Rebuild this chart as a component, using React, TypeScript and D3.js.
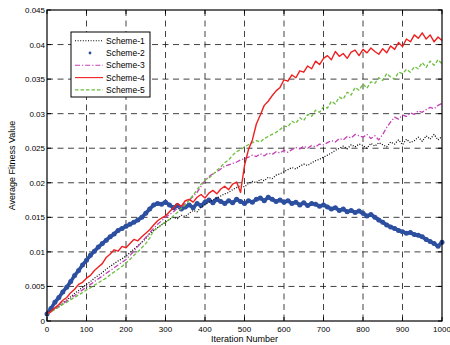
import React from 'react';
import * as d3 from 'd3';

const iterations = d3.range(0, 1001, 10);

const scheme1 = [
  0.0010, 0.0014, 0.0018, 0.0022, 0.0027, 0.0031, 0.0035, 0.0040, 0.0044, 0.0049,
  0.0053, 0.0057, 0.0062, 0.0066, 0.0070, 0.0075, 0.0079, 0.0083, 0.0087, 0.0090,
  0.0094, 0.0099, 0.0104, 0.0109, 0.0114, 0.0119, 0.0126, 0.0131, 0.0135, 0.0139,
  0.0143, 0.0147, 0.0150, 0.0148, 0.0153, 0.0151, 0.0156, 0.0160, 0.0158, 0.0165,
  0.0168, 0.0172, 0.0175, 0.0178, 0.0181, 0.0184, 0.0186, 0.0190, 0.0193, 0.0196,
  0.0194, 0.0199, 0.0202, 0.0200, 0.0205, 0.0203, 0.0208, 0.0206, 0.0211, 0.0213,
  0.0216, 0.0219, 0.0222, 0.0220, 0.0224, 0.0227, 0.0225, 0.0229, 0.0232, 0.0234,
  0.0237, 0.0240, 0.0243, 0.0247, 0.0250, 0.0253, 0.0249, 0.0255, 0.0252, 0.0256,
  0.0254, 0.0250, 0.0257, 0.0253, 0.0258, 0.0255, 0.0252, 0.0259, 0.0256, 0.0262,
  0.0255, 0.0263, 0.0258, 0.0261, 0.0266, 0.0260, 0.0268, 0.0263, 0.0270, 0.0262,
  0.0267,
];

const scheme2 = [
  0.0010, 0.0018, 0.0027, 0.0034, 0.0042, 0.0049, 0.0057, 0.0066, 0.0073, 0.0081,
  0.0088, 0.0095, 0.0101, 0.0107, 0.0112, 0.0117, 0.0122, 0.0126, 0.0131, 0.0134,
  0.0137, 0.0140, 0.0143, 0.0146, 0.0150, 0.0156, 0.0162, 0.0168, 0.0170, 0.0169,
  0.0172, 0.0168, 0.0164, 0.0167, 0.0162, 0.0165, 0.0168, 0.0164, 0.0170, 0.0167,
  0.0172, 0.0175, 0.0171, 0.0176, 0.0173, 0.0170, 0.0174, 0.0171, 0.0176, 0.0173,
  0.0170, 0.0174, 0.0172, 0.0176, 0.0178, 0.0174, 0.0179, 0.0176, 0.0173, 0.0175,
  0.0172, 0.0174, 0.0170, 0.0172, 0.0168, 0.0171, 0.0167, 0.0170, 0.0169, 0.0166,
  0.0168, 0.0165, 0.0162, 0.0164, 0.0160, 0.0162, 0.0158, 0.0160, 0.0157, 0.0159,
  0.0156, 0.0152, 0.0154, 0.0150, 0.0146, 0.0143, 0.0139, 0.0136, 0.0134, 0.0131,
  0.0129, 0.0127, 0.0128, 0.0125, 0.0124, 0.0122, 0.0118, 0.0115, 0.0112, 0.0108,
  0.0114,
];

const scheme3 = [
  0.0010, 0.0013, 0.0017, 0.0021, 0.0025, 0.0029, 0.0033, 0.0037, 0.0041, 0.0045,
  0.0049, 0.0053, 0.0057, 0.0061, 0.0065, 0.0069, 0.0073, 0.0077, 0.0081, 0.0085,
  0.0089, 0.0095, 0.0101, 0.0108, 0.0114, 0.0121, 0.0128, 0.0134, 0.0140, 0.0145,
  0.0150, 0.0154, 0.0158, 0.0163, 0.0166, 0.0170, 0.0175, 0.0180, 0.0186, 0.0195,
  0.0203, 0.0209, 0.0213, 0.0216, 0.0220, 0.0224, 0.0226, 0.0228, 0.0230, 0.0233,
  0.0235, 0.0237, 0.0240, 0.0238, 0.0242, 0.0239, 0.0243, 0.0241, 0.0245, 0.0243,
  0.0247, 0.0244, 0.0248, 0.0251, 0.0249, 0.0253, 0.0250, 0.0254, 0.0252, 0.0256,
  0.0255, 0.0258, 0.0261, 0.0259, 0.0264, 0.0262, 0.0267, 0.0265, 0.0270, 0.0268,
  0.0266, 0.0270, 0.0264, 0.0268, 0.0262, 0.0270, 0.0280, 0.0288, 0.0295, 0.0292,
  0.0298, 0.0296, 0.0301, 0.0299, 0.0304, 0.0302, 0.0306, 0.0309, 0.0307, 0.0312,
  0.0315,
];

const scheme4 = [
  0.0010, 0.0014, 0.0019, 0.0024, 0.0030, 0.0034, 0.0041, 0.0046, 0.0053, 0.0056,
  0.0062, 0.0066, 0.0073, 0.0078, 0.0083, 0.0092, 0.0097, 0.0103, 0.0101, 0.0108,
  0.0106, 0.0112, 0.0118, 0.0116, 0.0122, 0.0127, 0.0132, 0.0139, 0.0145, 0.0149,
  0.0152, 0.0158, 0.0164, 0.0170, 0.0166, 0.0174, 0.0176, 0.0172, 0.0179, 0.0183,
  0.0178, 0.0185, 0.0189, 0.0184, 0.0191, 0.0195, 0.0190, 0.0198, 0.0201, 0.0186,
  0.0225, 0.0248, 0.0262, 0.0285, 0.0298, 0.0312, 0.0318, 0.0326, 0.0333, 0.0338,
  0.0349, 0.0347, 0.0356, 0.0352, 0.0362, 0.0360, 0.0369, 0.0365, 0.0376, 0.0371,
  0.0380, 0.0384, 0.0378, 0.0390, 0.0383, 0.0387, 0.0380, 0.0389, 0.0392, 0.0384,
  0.0393, 0.0388, 0.0395, 0.0390, 0.0386, 0.0394, 0.0388, 0.0398, 0.0393, 0.0403,
  0.0397, 0.0408, 0.0404, 0.0414, 0.0409, 0.0417, 0.0408, 0.0414, 0.0404, 0.0411,
  0.0406,
];

const scheme5 = [
  0.0010, 0.0013, 0.0017, 0.0020, 0.0024, 0.0027, 0.0031, 0.0034, 0.0038, 0.0041,
  0.0045, 0.0048, 0.0052, 0.0055, 0.0059, 0.0062, 0.0067, 0.0071, 0.0075, 0.0079,
  0.0084, 0.0089, 0.0095, 0.0100, 0.0106, 0.0112, 0.0120, 0.0131, 0.0134, 0.0140,
  0.0143, 0.0147, 0.0152, 0.0157, 0.0163, 0.0168, 0.0175, 0.0182, 0.0190, 0.0198,
  0.0204, 0.0207, 0.0212, 0.0218, 0.0223, 0.0229, 0.0233, 0.0240, 0.0245, 0.0248,
  0.0252, 0.0255, 0.0258, 0.0261, 0.0259, 0.0264, 0.0267, 0.0270, 0.0273, 0.0277,
  0.0282, 0.0281, 0.0289, 0.0286, 0.0294, 0.0290, 0.0299, 0.0296, 0.0305, 0.0302,
  0.0310, 0.0308, 0.0318, 0.0314, 0.0324, 0.0321, 0.0331, 0.0327, 0.0338, 0.0334,
  0.0343, 0.0337, 0.0346, 0.0344, 0.0352, 0.0348, 0.0358, 0.0353, 0.0350, 0.0360,
  0.0358, 0.0364, 0.0360, 0.0368, 0.0365, 0.0374, 0.0367, 0.0376, 0.0370, 0.0378,
  0.0372,
];

const xTicks = [0, 100, 200, 300, 400, 500, 600, 700, 800, 900, 1000];
const yTicks = [0, 0.005, 0.01, 0.015, 0.02, 0.025, 0.03, 0.035, 0.04, 0.045];
const yTickLabels = ['0', '0.005', '0.01', '0.015', '0.02', '0.025', '0.03', '0.035', '0.04', '0.045'];
const seriesNames = ['Scheme-1', 'Scheme-2', 'Scheme-3', 'Scheme-4', 'Scheme-5'];

const W = 450, H = 345;
const L = 47, R = 442, T = 10, B = 321;
const FONT = 'Liberation Sans, Arial, sans-serif';

const styles = [
  { color: '#000000', dash: '1,1.6', width: 1.2, dots: false },
  { color: '#2d4fa0', dash: null, width: 3.6, dots: true },
  { color: '#c33fb5', dash: '5,2,1.2,2', width: 1.3, dots: false },
  { color: '#ee2020', dash: null, width: 1.4, dots: false },
  { color: '#6abf3c', dash: '3.5,2', width: 1.3, dots: false },
];

export default function App() {
  const x = d3.scaleLinear().domain([0, 1000]).range([L, R]);
  const y = d3.scaleLinear().domain([0, 0.045]).range([B, T]);
  const data = [scheme1, scheme2, scheme3, scheme4, scheme5];
  const line = d3.line<number>().x((_, i) => x(iterations[i])).y((d) => y(d));
  const order = [1, 0, 2, 4, 3];

  const legX = 71, legY = 32, legW = 79, legH = 65;

  return (
    <svg width={W} height={H} style={{ position: 'absolute', left: 0, top: 0, background: '#fff' }} fontFamily={FONT}>
      <rect x={0} y={0} width={W} height={H} fill="#fff" />
      {xTicks.slice(1, -1).map((t) => (
        <line key={'gx' + t} x1={x(t)} x2={x(t)} y1={T} y2={B} stroke="#111" strokeWidth={0.8} strokeDasharray="6,4.5" />
      ))}
      {yTicks.slice(1, -1).map((t) => (
        <line key={'gy' + t} x1={L} x2={R} y1={y(t)} y2={y(t)} stroke="#111" strokeWidth={0.8} strokeDasharray="6,4.5" />
      ))}
      <g>
        {order.map((si) => {
          const st = styles[si];
          const vals = data[si];
          return (
            <g key={si}>
              <path d={line(vals) || ''} fill="none" stroke={st.color} strokeWidth={st.width}
                strokeDasharray={st.dash || undefined} strokeLinejoin="round" />
              {st.dots && vals.map((v, i) => (
                <circle key={i} cx={x(iterations[i])} cy={y(v)} r={2.5} fill={st.color} />
              ))}
            </g>
          );
        })}
      </g>
      <rect x={L} y={T} width={R - L} height={B - T} fill="none" stroke="#000" strokeWidth={1.2} />
      {xTicks.map((t) => (
        <g key={'xt' + t}>
          <line x1={x(t)} x2={x(t)} y1={B} y2={B - 4} stroke="#000" />
          <line x1={x(t)} x2={x(t)} y1={T} y2={T + 4} stroke="#000" />
          <text x={x(t)} y={B + 11} fontSize={8} textAnchor="middle" fill="#000">{t}</text>
        </g>
      ))}
      {yTicks.map((t, i) => (
        <g key={'yt' + t}>
          <line x1={L} x2={L + 4} y1={y(t)} y2={y(t)} stroke="#000" />
          <line x1={R} x2={R - 4} y1={y(t)} y2={y(t)} stroke="#000" />
          <text x={L - 2} y={y(t) + 3} fontSize={8} textAnchor="end" fill="#000">{yTickLabels[i]}</text>
        </g>
      ))}
      <text x={(L + R) / 2} y={342} fontSize={9} textAnchor="middle" fill="#000">Iteration Number</text>
      <text transform={`translate(15,${(T + B) / 2}) rotate(-90)`} fontSize={9} textAnchor="middle" fill="#000">Average Fitness Value</text>
      <rect x={legX} y={legY} width={legW} height={legH} fill="#fff" stroke="#000" strokeWidth={1} />
      {seriesNames.map((name, i) => {
        const st = styles[i];
        const cy = legY + 8.7 + i * 12.3;
        return (
          <g key={name}>
            {st.dots ? (
              <circle cx={90} cy={cy} r={1.4} fill={st.color} />
            ) : (
              <line x1={75} x2={103} y1={cy} y2={cy} stroke={st.color} strokeWidth={1.1} strokeDasharray={st.dash || undefined} />
            )}
            <text x={106} y={cy + 3} fontSize={8.5} fill="#000">{name}</text>
          </g>
        );
      })}
    </svg>
  );
}
